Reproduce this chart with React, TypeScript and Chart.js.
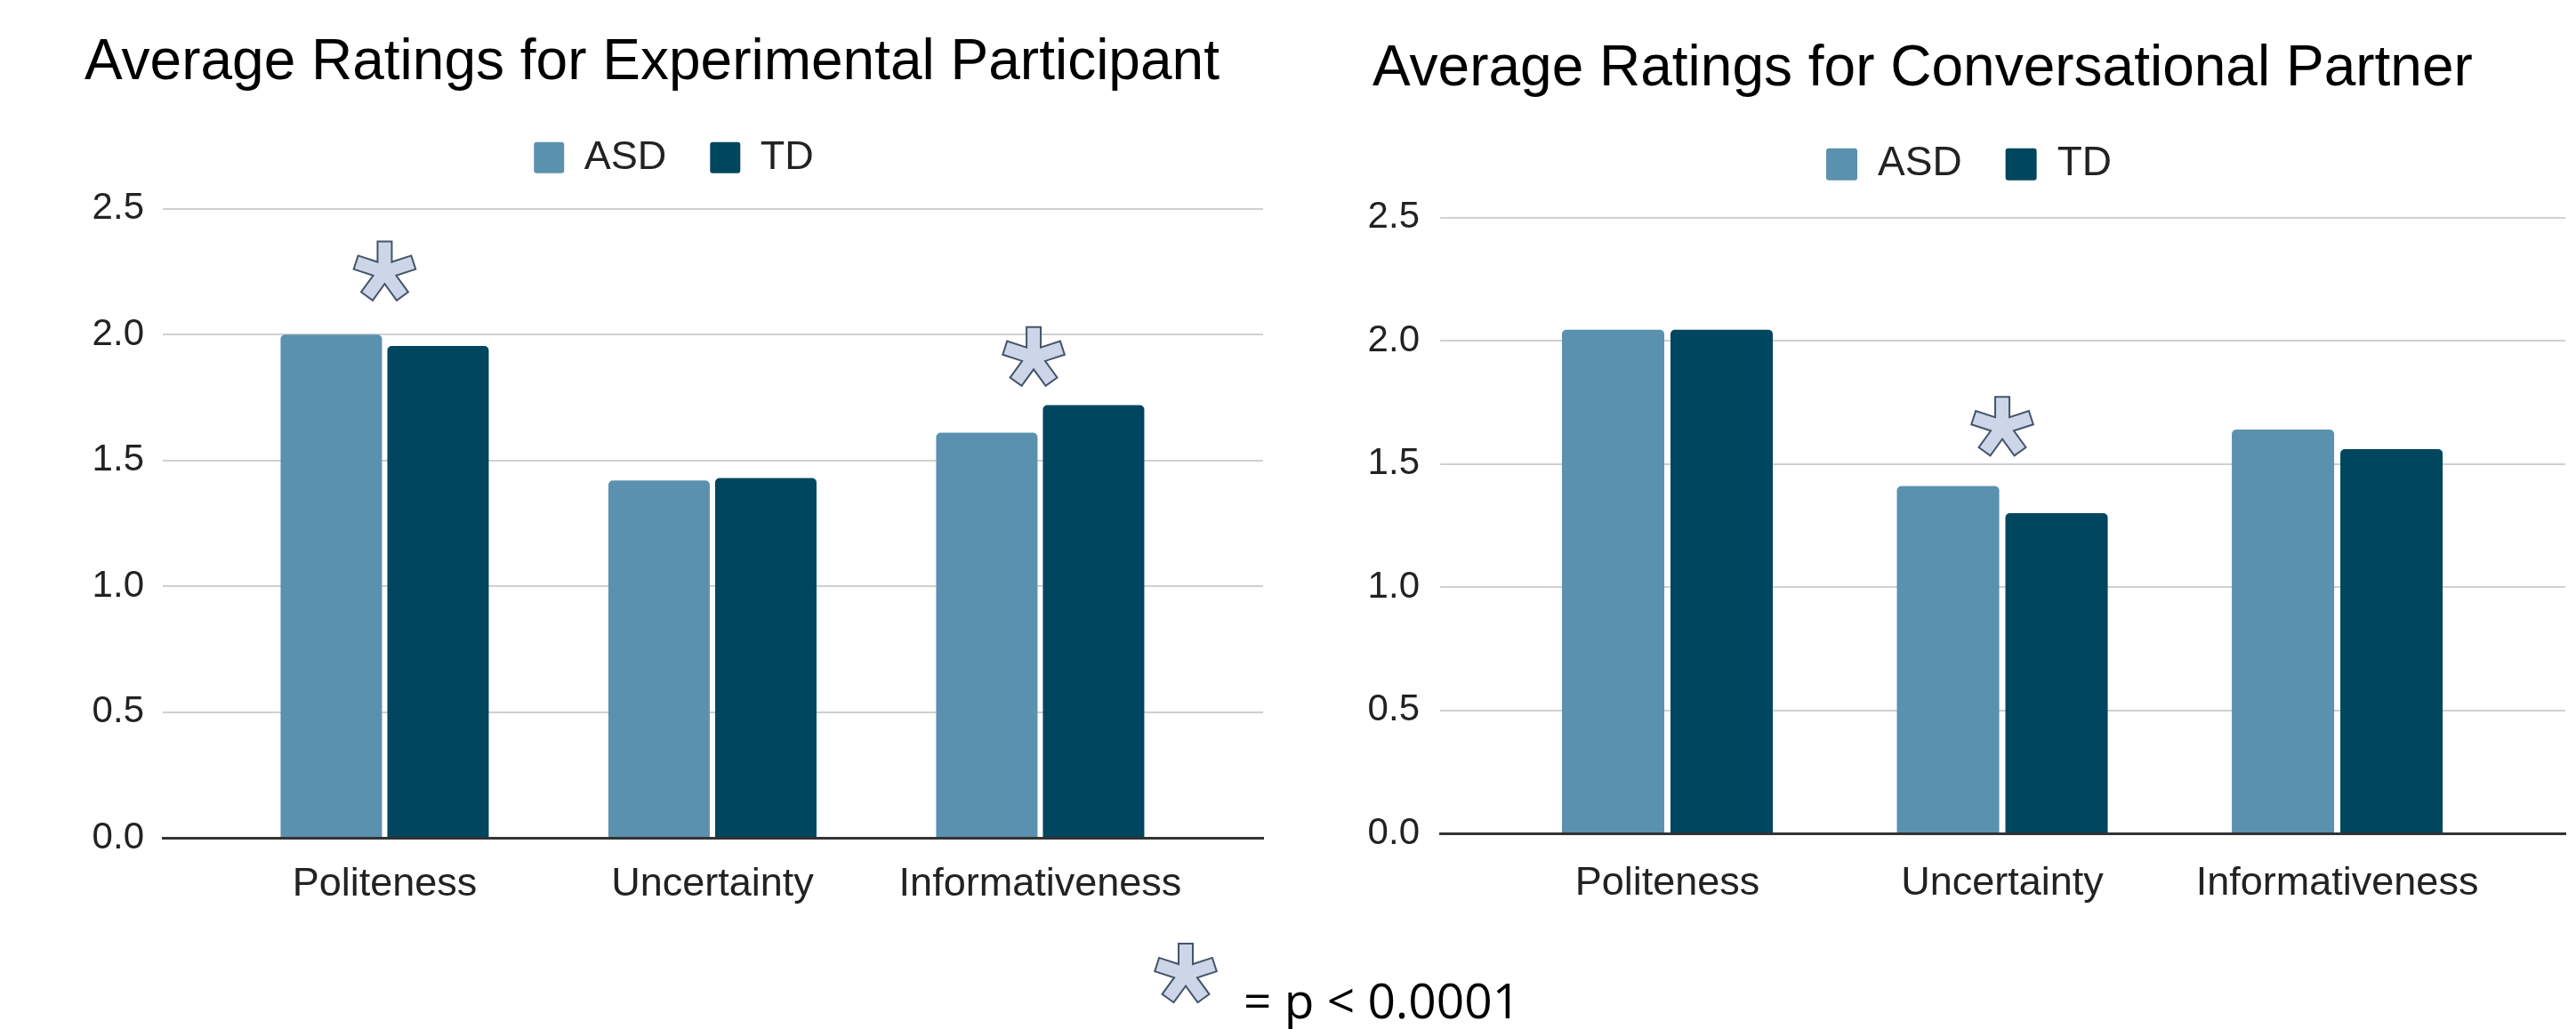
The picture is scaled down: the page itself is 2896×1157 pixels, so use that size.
import React, { useEffect, useRef } from 'react';
import { Chart, registerables } from 'chart.js';

Chart.register(...registerables);

// ---------- data ----------
const categories = ['Politeness', 'Uncertainty', 'Informativeness'];
const seriesNames = ['ASD', 'TD'];
const participantASD = [2.0, 1.42, 1.61];
const participantTD = [1.955, 1.43, 1.72];
const partnerASD = [2.045, 1.41, 1.64];
const partnerTD = [2.045, 1.3, 1.56];
const yTickValues = [0, 0.5, 1.0, 1.5, 2.0, 2.5];
// significance markers: category position and height (in rating units)
const participantStarX = [0, 1.98];
const participantStarY = [2.25, 1.91];
const partnerStarX = [1];
const partnerStarY = [1.65];
const participantTitle = 'Average Ratings for Experimental Participant';
const partnerTitle = 'Average Ratings for Conversational Partner';
const pValueLabel = '= p < 0.0001';

// ---------- style ----------
const ASD_COLOR = '#5a91ae';
const TD_COLOR = '#01465f';
const STAR_FILL = '#cdd5e8';
const STAR_STROKE = '#44546a';
const SANS = '"Liberation Sans", Arial, sans-serif';

function starPoints(cx: number, cy: number, L: number, w: number): [number, number][] {
  const pts: [number, number][] = [];
  const n = 5;
  const inner = w / Math.sin(Math.PI / n);
  for (let k = 0; k < n; k++) {
    const a = -Math.PI / 2 + (k * 2 * Math.PI) / n;
    const dx = Math.cos(a);
    const dy = Math.sin(a);
    const px = -dy;
    const py = dx;
    pts.push([cx + L * dx - w * px, cy + L * dy - w * py]);
    pts.push([cx + L * dx + w * px, cy + L * dy + w * py]);
    const b = a + Math.PI / n;
    pts.push([cx + inner * Math.cos(b), cy + inner * Math.sin(b)]);
  }
  return pts;
}

type PanelSpec = {
  title: string;
  asd: number[];
  td: number[];
  starX: number[];
  starY: number[];
  left: number;
  width: number;
  height: number;
  padLeft: number;
  padRight: number;
  titlePadTop: number;
  titlePadBottom: number;
  yAxisWidth: number;
  xAxisHeight: number;
  xMin: number;
  xMax: number;
  catPct: number;
  barPct: number;
  legendFont: number;
  boxW: number;
  boxH: number;
  legendExtra: number;
  xTickPad: number;
  yTickPad: number;
};

function ChartPanel({ spec }: { spec: PanelSpec }) {
  const ref = useRef<HTMLCanvasElement | null>(null);
  useEffect(() => {
    if (!ref.current) return;
    const s = spec;
    const toPoints = (vals: number[]) => vals.map((v, i) => ({ x: i, y: v }));

    const starPlugin = {
      id: 'sigStars',
      afterDatasetsDraw(chart: any) {
        const { ctx } = chart;
        const xs = chart.scales.x;
        const ys = chart.scales.y;
        s.starX.forEach((sx, i) => {
          const cx = xs.getPixelForValue(sx);
          const cy = ys.getPixelForValue(s.starY[i]);
          const pts = starPoints(cx, cy, 34, 8);
          ctx.save();
          ctx.beginPath();
          pts.forEach(([px, py], j) => (j === 0 ? ctx.moveTo(px, py) : ctx.lineTo(px, py)));
          ctx.closePath();
          ctx.fillStyle = STAR_FILL;
          ctx.fill();
          ctx.lineWidth = 2;
          ctx.lineJoin = 'miter';
          ctx.strokeStyle = STAR_STROKE;
          ctx.stroke();
          ctx.restore();
        });
      },
    };

    const legendSpacer = {
      id: 'legendSpacer',
      beforeInit(chart: any) {
        const orig = chart.legend.fit;
        chart.legend.fit = function fit() {
          orig.bind(chart.legend)();
          this.height += s.legendExtra;
        };
      },
    };

    const chart = new Chart(ref.current, {
      type: 'bar',
      data: {
        datasets: [
          {
            label: seriesNames[0],
            data: toPoints(s.asd) as any,
            backgroundColor: ASD_COLOR,
            borderRadius: 5,
            borderSkipped: 'start',
            categoryPercentage: s.catPct,
            barPercentage: s.barPct,
          },
          {
            label: seriesNames[1],
            data: toPoints(s.td) as any,
            backgroundColor: TD_COLOR,
            borderRadius: 5,
            borderSkipped: 'start',
            categoryPercentage: s.catPct,
            barPercentage: s.barPct,
          },
        ],
      },
      options: {
        responsive: false,
        animation: false,
        devicePixelRatio: 1,
        layout: { padding: { left: s.padLeft, right: s.padRight, top: 0, bottom: 0 } },
        plugins: {
          title: {
            display: true,
            text: s.title,
            align: 'start',
            color: '#000000',
            font: { family: SANS, size: 64, weight: 'normal' },
            padding: { top: s.titlePadTop, bottom: s.titlePadBottom },
          },
          legend: {
            display: true,
            position: 'top',
            align: 'center',
            labels: {
              color: '#222222',
              font: { family: SANS, size: s.legendFont },
              boxWidth: s.boxW,
              boxHeight: s.boxH,
              padding: 49,
              useBorderRadius: true,
              borderRadius: 3,
            },
          },
          tooltip: { enabled: false },
        },
        scales: {
          x: {
            type: 'linear',
            min: s.xMin,
            max: s.xMax,
            offset: false,
            grid: { display: false, offset: false },
            border: { display: true, color: '#333333', width: 3, z: 1 },
            afterBuildTicks: (scale: any) => {
              scale.ticks = categories.map((_, i) => ({ value: i }));
            },
            afterFit: (scale: any) => {
              scale.height = s.xAxisHeight;
            },
            ticks: {
              autoSkip: false,
              maxRotation: 0,
              padding: s.xTickPad,
              color: '#222222',
              font: { family: SANS, size: 45 },
              callback: (v: any) => categories[Math.round(Number(v))] ?? '',
            },
          },
          y: {
            min: 0,
            max: 2.5,
            afterBuildTicks: (scale: any) => {
              scale.ticks = yTickValues.map((v) => ({ value: v }));
            },
            afterFit: (scale: any) => {
              scale.width = s.yAxisWidth;
              // let tick labels extend past the axis box without being clipped
              scale._computeLabelArea = () => undefined;
            },
            grid: { color: '#d0d0d0', lineWidth: 2, drawTicks: false },
            border: { display: false },
            ticks: {
              padding: s.yTickPad,
              color: '#222222',
              font: { family: SANS, size: 42 },
              callback: (v: any) => Number(v).toFixed(1),
            },
          },
        },
      },
      plugins: [starPlugin, legendSpacer],
    } as any);
    return () => chart.destroy();
  }, [spec]);

  return (
    <canvas
      ref={ref}
      width={spec.width}
      height={spec.height}
      style={{ position: 'absolute', left: spec.left, top: 0, width: spec.width, height: spec.height }}
    />
  );
}

const leftSpec: PanelSpec = {
  title: participantTitle,
  asd: participantASD,
  td: participantTD,
  starX: participantStarX,
  starY: participantStarY,
  left: 0,
  width: 1460,
  height: 1060,
  padLeft: 95,
  padRight: 40,
  titlePadTop: 33,
  titlePadBottom: -4,
  yAxisWidth: 88,
  xAxisHeight: 118,
  xMin: -0.677,
  xMax: 2.68,
  catPct: 0.6513,
  barPct: 0.95,
  legendFont: 45,
  boxW: 34,
  boxH: 35,
  legendExtra: 25,
  xTickPad: 18,
  yTickPad: 21,
};

const rightSpec: PanelSpec = {
  title: partnerTitle,
  asd: partnerASD,
  td: partnerTD,
  starX: partnerStarX,
  starY: partnerStarY,
  left: 1500,
  width: 1396,
  height: 1060,
  padLeft: 43,
  padRight: 12,
  titlePadTop: 40,
  titlePadBottom: -4,
  yAxisWidth: 76,
  xAxisHeight: 123,
  xMin: -0.6786,
  xMax: 2.681,
  catPct: 0.648,
  barPct: 0.943,
  legendFont: 46,
  boxW: 35,
  boxH: 36,
  legendExtra: 27,
  xTickPad: 22,
  yTickPad: 23,
};

export default function App() {
  const legendStar = starPoints(1333, 1095, 34, 8)
    .map(([x, y]) => `${x.toFixed(1)},${y.toFixed(1)}`)
    .join(' ');
  return (
    <div
      style={{
        position: 'absolute',
        left: 0,
        top: 0,
        width: 2896,
        height: 1157,
        background: '#ffffff',
        overflow: 'hidden',
      }}
    >
      <ChartPanel spec={leftSpec} />
      <ChartPanel spec={rightSpec} />
      <svg
        width={2896}
        height={1157}
        style={{ position: 'absolute', left: 0, top: 0, pointerEvents: 'none' }}
      >
        <polygon points={legendStar} fill={STAR_FILL} stroke={STAR_STROKE} strokeWidth={2} />
        <text x={1398} y={1145} fontFamily='"Open Sans", "Noto Sans", sans-serif' fontSize={55} fill="#000000">
          {pValueLabel}
        </text>
      </svg>
    </div>
  );
}
